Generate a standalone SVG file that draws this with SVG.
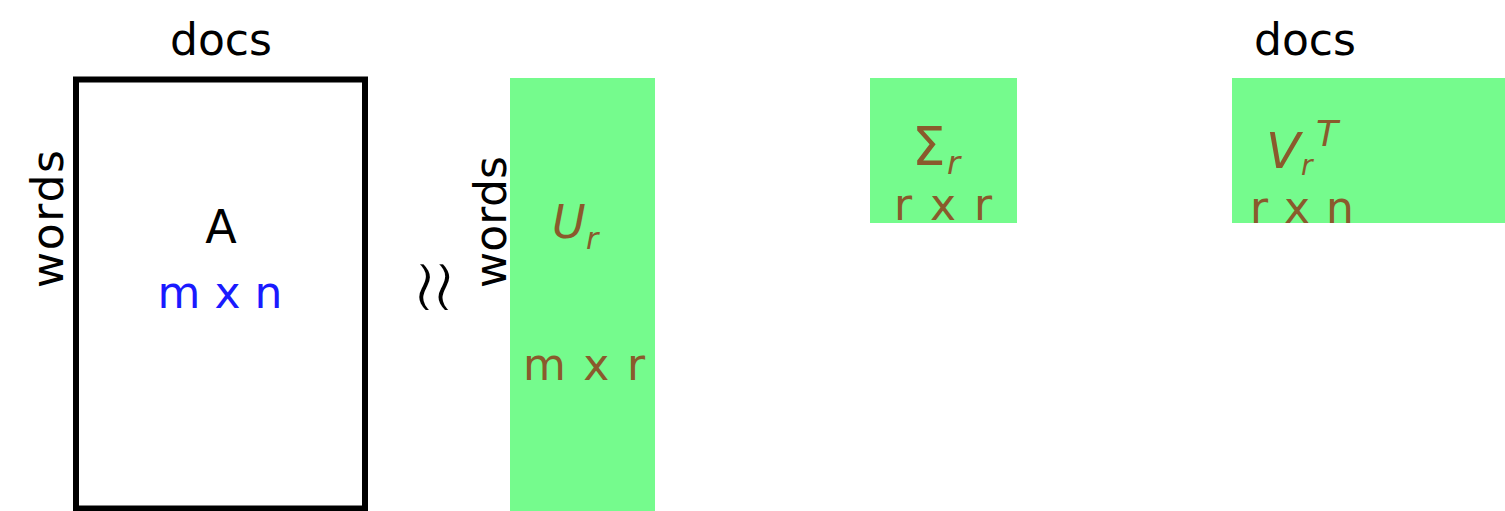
<svg xmlns="http://www.w3.org/2000/svg" width="1505" height="511" viewBox="0 0 1505 511">
<style>
.t{font-family:"DejaVu Sans",sans-serif;font-size:44px;fill:#000}
.b{font-family:"DejaVu Sans",sans-serif;font-size:44px;fill:#1a1aff}
.br{font-family:"DejaVu Sans",sans-serif;font-size:44px;fill:#8a5a2c}
.it{font-style:italic}
.g{fill:#75fb8d}
</style>
<rect width="1505" height="511" fill="#fff"/>
<g id="labels">
<text class="t" x="221" y="55" text-anchor="middle">docs</text>
<text class="t" x="1305" y="55" text-anchor="middle">docs</text>
<text class="t" transform="translate(63,219) rotate(-90)" text-anchor="middle" textLength="138">words</text>
<text class="t" transform="translate(506,222) rotate(-90)" text-anchor="middle" textLength="132">words</text>
<text class="t" transform="translate(466,287) rotate(-90) scale(1,1.3)" text-anchor="middle" style="font-size:78px;stroke:#fff;stroke-width:3.2">≈</text>
</g>
<g id="matrixA">
<rect x="76" y="79.5" width="289" height="429" fill="#fff" stroke="#000" stroke-width="6"/>
<text class="t" x="221" y="243" text-anchor="middle" style="font-size:46px">A</text>
<text class="b" x="220" y="308" text-anchor="middle" textLength="125">m x n</text>
</g>
<g id="matrixU">
<rect class="g" x="510" y="78" width="145" height="433"/>
<text class="br it" x="552" y="238" style="font-size:46px">U</text>
<text class="br it" x="586" y="249" style="font-size:30px">r</text>
<text class="br" x="584" y="380" text-anchor="middle" textLength="122">m x r</text>
</g>
<g id="matrixSigma">
<rect class="g" x="870" y="78" width="147" height="145"/>
<text class="br" x="912" y="165" style="font-size:53px">Σ</text>
<text class="br it" x="947" y="174" style="font-size:32px">r</text>
<text class="br" x="943" y="220" text-anchor="middle" textLength="98">r x r</text>
</g>
<g id="matrixV">
<rect class="g" x="1232" y="78" width="273" height="145"/>
<text class="br it" x="1266" y="168" style="font-size:50px">V</text>
<text class="br it" x="1316" y="146" style="font-size:36px">T</text>
<text class="br it" x="1301" y="175" style="font-size:28px">r</text>
<text class="br" x="1302" y="223" text-anchor="middle" textLength="104">r x n</text>
</g>
<g id="connectors"></g>
</svg>
